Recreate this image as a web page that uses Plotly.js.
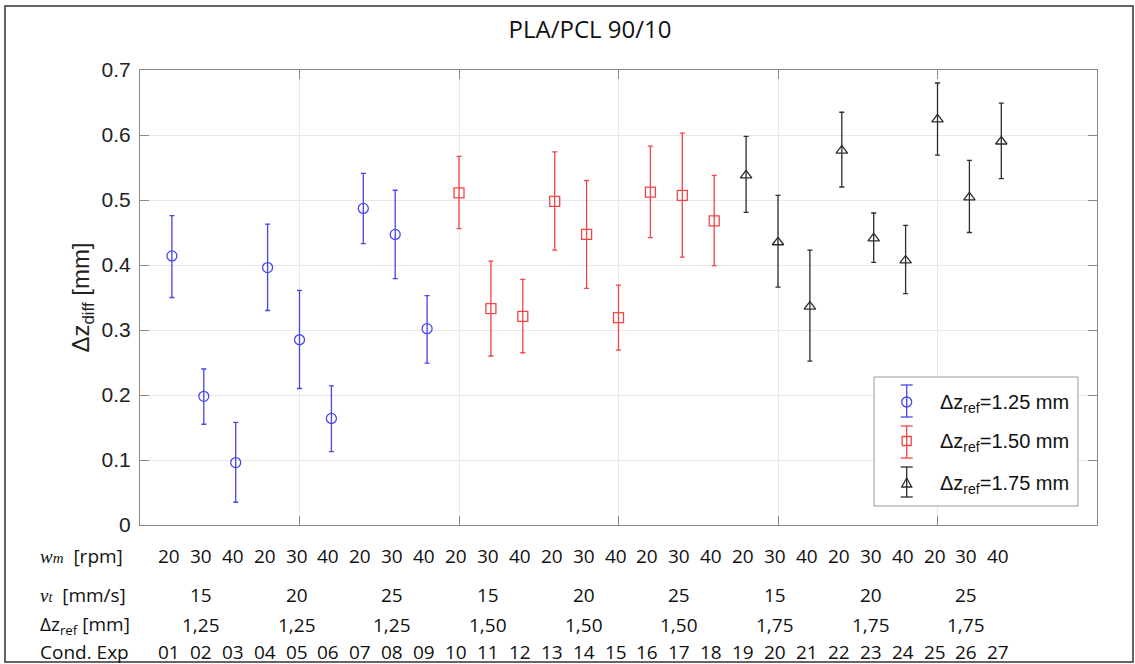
<!DOCTYPE html>
<html>
<head>
<meta charset="utf-8">
<script src="https://cdn.plot.ly/plotly-3.0.1.min.js"></script>
</head>
<body style="margin:0;background:#fff">
<div id="chart" style="width:1135px;height:664px"></div>
<script>
// ---- data ----
const condBlue = [1, 2, 3, 4, 5, 6, 7, 8, 9];
const condRed = [10, 11, 12, 13, 14, 15, 16, 17, 18];
const condBlack = [19, 20, 21, 22, 23, 24, 25, 26, 27];

const blueMean = [0.414, 0.198, 0.096, 0.396, 0.285, 0.164, 0.487, 0.447, 0.302];
const blueUpper = [0.476, 0.240, 0.158, 0.463, 0.361, 0.214, 0.541, 0.515, 0.353];
const blueLower = [0.350, 0.155, 0.035, 0.330, 0.210, 0.113, 0.433, 0.379, 0.249];

const redMean = [0.511, 0.333, 0.321, 0.498, 0.447, 0.319, 0.512, 0.507, 0.468];
const redUpper = [0.567, 0.406, 0.378, 0.574, 0.530, 0.369, 0.583, 0.603, 0.538];
const redLower = [0.456, 0.260, 0.265, 0.423, 0.364, 0.269, 0.442, 0.412, 0.399];

const blackMean = [0.538, 0.435, 0.336, 0.576, 0.441, 0.407, 0.624, 0.504, 0.590];
const blackUpper = [0.598, 0.507, 0.423, 0.635, 0.480, 0.461, 0.680, 0.561, 0.649];
const blackLower = [0.481, 0.366, 0.252, 0.520, 0.404, 0.356, 0.569, 0.450, 0.533];

const seriesNames = ['Δz<sub>ref</sub>=1.25 mm', 'Δz<sub>ref</sub>=1.50 mm', 'Δz<sub>ref</sub>=1.75 mm'];

// table below the axis
const condExp = ['01','02','03','04','05','06','07','08','09','10','11','12','13','14',
                 '15','16','17','18','19','20','21','22','23','24','25','26','27'];
const wmRpm = [20,30,40,20,30,40,20,30,40,20,30,40,20,30,40,20,30,40,20,30,40,20,30,40,20,30,40];
const vtMms = [15, 20, 25, 15, 20, 25, 15, 20, 25];
const dzRefGroups = ['1,25','1,25','1,25','1,50','1,50','1,50','1,75','1,75','1,75'];
const rowLabels = [
  '<span style="font-family:\'Liberation Serif\'"><i>w</i><span style="font-size:15px"><i>m</i></span></span>  [rpm]',
  '<span style="font-family:\'Liberation Serif\'"><i>v</i><span style="font-size:14px"><i>t</i></span></span>  [mm/s]',
  'Δz<sub>ref</sub> [mm]',
  'Cond. Exp'
];

// ---- style / geometry ----
const BLUE = 'rgb(70,70,235)', RED = 'rgb(240,70,70)', BLACK = 'rgb(45,45,45)';
const L = 140, R = 1097, T = 70, B = 525;
const px = p => (p - L) / (R - L);
const py = p => (B - p) / (B - T);

function errs(mean, up, low) {
  return {
    type: 'data', symmetric: false,
    array: mean.map((m, i) => +(up[i] - m).toFixed(3)),
    arrayminus: mean.map((m, i) => +(m - low[i]).toFixed(3)),
    thickness: 1.3, width: 2.5
  };
}
function trace(x, mean, up, low, color, symbol, name) {
  const e = errs(mean, up, low); e.color = color;
  return {
    x: x, y: mean, type: 'scatter', mode: 'markers', name: name, showlegend: false,
    marker: {symbol: symbol, size: 10, color: color, line: {width: 1.3, color: color}},
    error_y: e
  };
}
const data = [
  trace(condBlue, blueMean, blueUpper, blueLower, BLUE, 'circle-open', seriesNames[0]),
  trace(condRed, redMean, redUpper, redLower, RED, 'square-open', seriesNames[1]),
  trace(condBlack, blackMean, blackUpper, blackLower, BLACK, 'triangle-up-open', seriesNames[2])
];

// ---- annotations: bottom table ----
const tFont = {family: 'Open Sans', size: 19, color: '#111'};
const ann = [];
const rowY = [556, 595, 625, 652];
rowLabels.forEach((t, r) => ann.push({
  text: t, xref: 'paper', yref: 'paper', x: px(38), y: py(rowY[r]),
  xanchor: 'left', yanchor: 'middle', showarrow: false, font: tFont
}));
wmRpm.forEach((v, i) => ann.push({
  text: String(v), xref: 'x', yref: 'paper', x: i + 1, xshift: -3, y: py(rowY[0]),
  xanchor: 'center', yanchor: 'middle', showarrow: false, font: tFont
}));
vtMms.forEach((v, g) => ann.push({
  text: String(v), xref: 'x', yref: 'paper', x: 3 * g + 2, xshift: -3, y: py(rowY[1]),
  xanchor: 'center', yanchor: 'middle', showarrow: false, font: tFont
}));
dzRefGroups.forEach((v, g) => ann.push({
  text: v, xref: 'x', yref: 'paper', x: 3 * g + 2, xshift: -3, y: py(rowY[2]),
  xanchor: 'center', yanchor: 'middle', showarrow: false, font: tFont
}));
condExp.forEach((v, i) => ann.push({
  text: v, xref: 'x', yref: 'paper', x: i + 1, xshift: -3, y: py(rowY[3]),
  xanchor: 'center', yanchor: 'middle', showarrow: false, font: tFont
}));

// ---- manual legend (with error-bar icons) ----
const shapes = [];
// outer figure frame
shapes.push({type: 'rect', xref: 'paper', yref: 'paper', x0: px(5), x1: px(1133), y0: py(662), y1: py(6),
  line: {color: '#333', width: 1.5}, fillcolor: 'rgba(0,0,0,0)', layer: 'below'});
// legend box
shapes.push({type: 'rect', xref: 'paper', yref: 'paper', x0: px(874), x1: px(1078), y0: py(506), y1: py(377),
  line: {color: '#999', width: 1}, fillcolor: '#fff', layer: 'above'});
const legItems = [
  {c: BLUE, top: 385, bot: 417, mid: 402, sym: 'circle'},
  {c: RED, top: 426, bot: 458, mid: 441, sym: 'square'},
  {c: BLACK, top: 467, bot: 497, mid: 483, sym: 'triangle'}
];
const lx = 906.7;
legItems.forEach((it, k) => {
  const ln = {color: it.c, width: 1.3};
  shapes.push({type: 'line', xref: 'paper', yref: 'paper', x0: px(lx), x1: px(lx), y0: py(it.top), y1: py(it.bot), line: ln, layer: 'above'});
  shapes.push({type: 'line', xref: 'paper', yref: 'paper', x0: px(lx - 6), x1: px(lx + 6), y0: py(it.top), y1: py(it.top), line: ln, layer: 'above'});
  shapes.push({type: 'line', xref: 'paper', yref: 'paper', x0: px(lx - 6), x1: px(lx + 6), y0: py(it.bot), y1: py(it.bot), line: ln, layer: 'above'});
  if (it.sym === 'circle') {
    shapes.push({type: 'circle', xref: 'paper', yref: 'paper', x0: px(lx - 5), x1: px(lx + 5), y0: py(it.mid + 5), y1: py(it.mid - 5),
      line: ln, fillcolor: 'rgba(0,0,0,0)', layer: 'above'});
  } else if (it.sym === 'square') {
    shapes.push({type: 'rect', xref: 'paper', yref: 'paper', x0: px(lx - 4.5), x1: px(lx + 4.5), y0: py(it.mid + 4.5), y1: py(it.mid - 4.5),
      line: ln, fillcolor: 'rgba(0,0,0,0)', layer: 'above'});
  } else {
    shapes.push({type: 'path', xref: 'paper', yref: 'paper',
      path: `M ${px(lx)} ${py(it.mid - 5)} L ${px(lx - 5)} ${py(it.mid + 4)} L ${px(lx + 5)} ${py(it.mid + 4)} Z`,
      line: ln, fillcolor: 'rgba(0,0,0,0)', layer: 'above'});
  }
  ann.push({text: seriesNames[k], xref: 'paper', yref: 'paper', x: px(938), y: py(it.mid + 1),
    xanchor: 'left', yanchor: 'middle', showarrow: false,
    font: {family: 'Liberation Sans', size: 20, color: '#111'}});
});

const axisCommon = {
  ticks: 'inside', ticklen: 9, tickcolor: '#888', tickwidth: 1,
  showline: true, linecolor: '#888', linewidth: 1, mirror: 'ticks',
  showgrid: true, gridcolor: '#e8e8e8', gridwidth: 1, zeroline: false, fixedrange: true
};

const layout = {
  width: 1135, height: 664,
  margin: {l: L, r: 1135 - R, t: T, b: 664 - B, pad: 0},
  paper_bgcolor: '#fff', plot_bgcolor: '#fff',
  showlegend: false,
  title: {text: 'PLA/PCL 90/10', font: {family: 'Open Sans', size: 24, color: '#111'},
    xref: 'paper', x: px(590), xanchor: 'center', yref: 'container', y: 1 - 30 / 664, yanchor: 'middle'},
  xaxis: Object.assign({}, axisCommon, {range: [0, 30], tick0: 0, dtick: 5, showticklabels: false}),
  yaxis: Object.assign({}, axisCommon, {
    range: [0, 0.7], tick0: 0, dtick: 0.1, automargin: false,
    tickfont: {family: 'Liberation Sans', size: 21, color: '#222'},
    ticklabelstandoff: 4,
    title: {text: 'Δz<sub>diff</sub> [mm]', font: {family: 'Liberation Sans', size: 24, color: '#222'}, standoff: 5}
  }),
  shapes: shapes,
  annotations: ann
};

Plotly.newPlot('chart', data, layout, {staticPlot: true, displayModeBar: false});
</script>
</body>
</html>
